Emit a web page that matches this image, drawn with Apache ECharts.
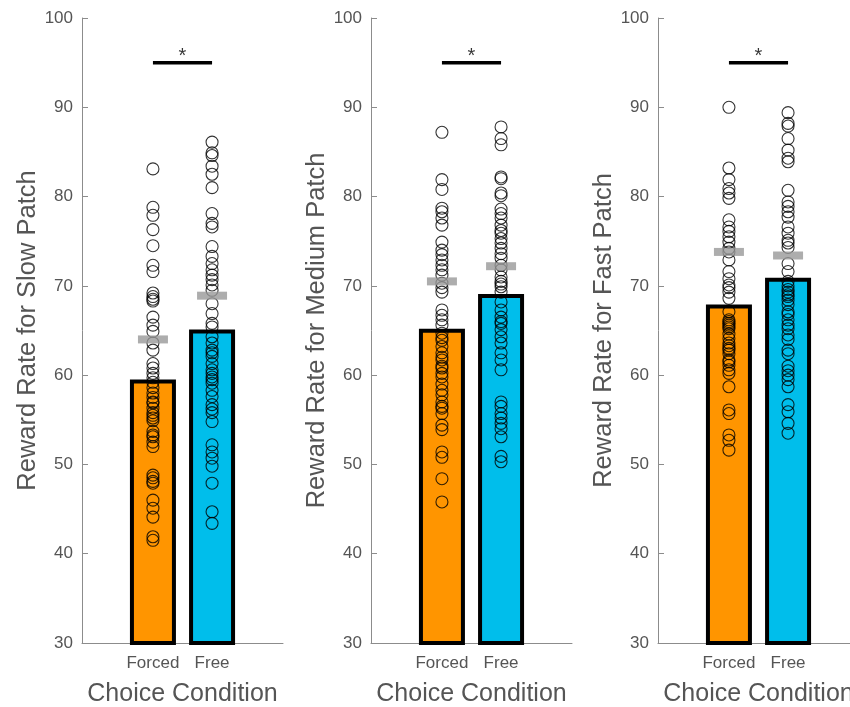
<!DOCTYPE html>
<html>
<head>
<meta charset="utf-8">
<script src="https://cdn.jsdelivr.net/npm/echarts@6/dist/echarts.min.js"></script>
<style>html,body{margin:0;padding:0;background:#fff;}#c{width:850px;height:707px;}</style>
</head>
<body>
<div id="c"></div>
<script>
// ---- data ----
const categories = ['Forced', 'Free'];
const categoryPos = [1, 2];
const panelNames = ['Reward Rate for Slow Patch', 'Reward Rate for Medium Patch', 'Reward Rate for Fast Patch'];
const yTicks = [30, 40, 50, 60, 70, 80, 90, 100];

const slowForced = [83.1, 78.8, 77.9, 76.3, 74.5, 72.3, 71.6, 69.2, 68.8, 68.5, 68.3, 66.5, 65.6, 64.9, 63.6, 62.8, 61.3, 60.8, 60.2, 59.7, 59.2, 58.6, 58.0, 57.5, 57.0, 56.9, 56.3, 55.8, 55.5, 55.2, 54.9, 53.7, 53.3, 53.1, 52.5, 52.0, 48.8, 48.5, 48.1, 47.9, 46.0, 45.1, 44.1, 41.9, 41.5];
const slowFree = [86.1, 84.9, 84.6, 83.4, 82.5, 81.0, 78.1, 77.0, 76.6, 74.4, 73.3, 72.5, 71.8, 71.2, 70.7, 70.1, 69.5, 68.0, 66.9, 65.8, 65.4, 64.3, 63.6, 62.8, 62.5, 62.1, 61.3, 60.6, 60.2, 59.8, 59.5, 59.1, 58.3, 57.6, 56.7, 56.2, 55.8, 54.8, 52.2, 51.4, 50.7, 49.8, 47.9, 44.7, 43.4];
const mediumForced = [87.2, 81.9, 80.8, 78.7, 78.3, 77.6, 76.8, 74.9, 74.0, 73.5, 72.9, 72.3, 71.8, 71.2, 70.3, 69.8, 69.3, 67.3, 66.7, 66.2, 65.6, 64.7, 64.2, 63.9, 63.2, 62.5, 62.0, 61.7, 61.0, 60.8, 60.2, 59.8, 59.0, 58.3, 57.8, 57.0, 56.5, 56.3, 55.7, 54.4, 53.9, 51.4, 50.8, 48.4, 45.8];
const mediumFree = [87.8, 86.5, 85.8, 82.2, 82.0, 80.4, 80.1, 78.6, 78.1, 77.6, 76.8, 76.2, 75.9, 75.3, 74.8, 74.2, 73.6, 73.1, 72.3, 71.8, 71.0, 70.5, 70.2, 69.9, 69.3, 68.2, 67.3, 66.5, 66.0, 65.8, 65.1, 64.3, 63.6, 62.5, 61.7, 60.6, 57.0, 56.5, 55.7, 55.2, 54.6, 54.0, 53.1, 50.9, 50.3];
const fastForced = [90.0, 83.2, 81.9, 80.9, 80.4, 79.8, 77.4, 76.6, 76.1, 75.5, 74.9, 74.2, 73.8, 72.9, 71.6, 70.8, 70.1, 69.8, 69.3, 68.6, 67.1, 66.2, 66.0, 65.8, 65.6, 65.4, 65.2, 64.6, 64.1, 63.6, 63.3, 63.0, 62.8, 62.4, 61.7, 61.5, 61.1, 60.6, 60.2, 58.7, 56.1, 55.7, 53.3, 52.7, 51.6];
const fastFree = [89.4, 88.2, 87.9, 86.5, 85.2, 84.3, 83.9, 80.7, 79.4, 78.9, 78.3, 77.7, 76.6, 75.9, 75.1, 74.8, 74.3, 72.5, 71.6, 70.5, 70.0, 69.6, 69.3, 69.0, 68.8, 68.4, 67.9, 67.1, 66.8, 66.2, 65.6, 65.2, 64.5, 64.0, 62.8, 62.4, 61.0, 60.5, 60.0, 59.5, 58.7, 56.7, 55.9, 54.6, 53.5];

const barMeans = [[59.5, 65.1], [65.2, 69.1], [67.9, 70.9]];
const greyMarkers = [[64.0, 68.9], [70.5, 72.2], [73.8, 73.4]];
const sigLevel = [95, 95, 95];
const sigStarLevel = [95.7, 95.7, 95.7];

const points = [[slowForced, slowFree], [mediumForced, mediumFree], [fastForced, fastFree]];
const barColors = ['#FF9500', '#00BEEB'];

// ---- chart ----
const gridLefts = [82, 371, 658];
const font = 'Liberation Sans, Arial, Helvetica, sans-serif';
const grids = [], xAxes = [], yAxes = [], series = [];

for (let p = 0; p < 3; p++) {
  grids.push({ left: gridLefts[p], top: 18, width: 201, height: 625, containLabel: false, outerBoundsMode: 'none' });
  xAxes.push({
    gridIndex: p, type: 'value', min: -0.2, max: 3.2,
    name: 'Choice Condition', nameLocation: 'middle', nameGap: 39,
    nameTextStyle: { fontFamily: font, fontSize: 25, color: '#555' },
    axisLine: { show: true, onZero: false, lineStyle: { color: '#8c8c8c', width: 1 } },
    axisTick: { show: true, inside: true, length: 5, lineStyle: { color: '#8c8c8c' }, customValues: categoryPos },
    axisLabel: { show: true, customValues: categoryPos, margin: 12, fontFamily: font, fontSize: 17, color: '#555',
      formatter: v => categories[categoryPos.indexOf(Math.round(v))] || '' },
    splitLine: { show: false }
  });
  yAxes.push({
    gridIndex: p, type: 'value', min: yTicks[0], max: yTicks[yTicks.length - 1], interval: 10,
    name: panelNames[p], nameLocation: 'middle', nameGap: 41,
    nameTextStyle: { fontFamily: font, fontSize: 25.5, color: '#555' },
    axisLine: { show: true, onZero: false, lineStyle: { color: '#8c8c8c', width: 1 } },
    axisTick: { show: true, inside: true, length: 6, lineStyle: { color: '#8c8c8c' } },
    axisLabel: { margin: 9, fontFamily: font, fontSize: 17, color: '#555' },
    splitLine: { show: false }
  });
  series.push({
    type: 'bar', xAxisIndex: p, yAxisIndex: p, barWidth: 46, z: 1,
    data: categoryPos.map((x, i) => ({ value: [x, barMeans[p][i]], itemStyle: { color: barColors[i] } })),
    itemStyle: { borderColor: '#000', borderWidth: 4 }
  });
  for (let i = 0; i < 2; i++) {
    series.push({
      type: 'scatter', xAxisIndex: p, yAxisIndex: p, z: 3,
      symbol: 'circle', symbolSize: 12,
      itemStyle: { color: 'rgba(0,0,0,0)', borderColor: '#000', borderWidth: 1.1 },
      data: points[p][i].map(v => [categoryPos[i], v])
    });
  }
  series.push({
    type: 'scatter', xAxisIndex: p, yAxisIndex: p, z: 4,
    symbol: 'rect', symbolSize: [30, 8],
    itemStyle: { color: '#999999' },
    data: categoryPos.map((x, i) => [x, greyMarkers[p][i]])
  });
  series.push({
    type: 'line', xAxisIndex: p, yAxisIndex: p, z: 5, symbol: 'none',
    lineStyle: { color: '#000', width: 3.5 },
    data: [[categoryPos[0], sigLevel[p]], [categoryPos[1], sigLevel[p]]]
  });
  series.push({
    type: 'scatter', xAxisIndex: p, yAxisIndex: p, z: 5, symbolSize: 1,
    itemStyle: { color: 'rgba(0,0,0,0)' },
    label: { show: true, position: 'inside', formatter: '*', fontFamily: font, fontSize: 20, color: '#000' },
    data: [[(categoryPos[0] + categoryPos[1]) / 2, sigStarLevel[p]]]
  });
}

const chart = echarts.init(document.getElementById('c'), null, { renderer: 'canvas' });
chart.setOption({ animation: false, backgroundColor: '#fff', grid: grids, xAxis: xAxes, yAxis: yAxes, series: series });
</script>
</body>
</html>
